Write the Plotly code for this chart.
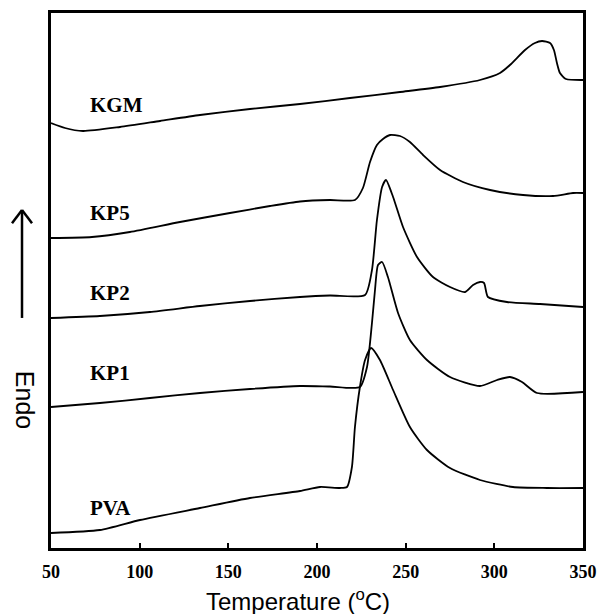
import plotly.graph_objects as go

# DSC curves: temperature (deg C) vs heat flow (arbitrary units, curves offset)
kgm_t = [50, 57.9, 68, 88.9, 111.5, 134, 162.2, 190.4, 218.6, 246.8, 269.4, 291.9, 303.2, 308.8, 317.3, 322.9, 326.9, 331.4, 333.6, 335.3, 337, 340.4, 350]
kgm_y = [425, 420, 417, 421, 427, 433, 439, 444, 450, 456, 461, 468, 475, 483, 498, 505, 507, 505, 498, 485, 475, 469, 468]

kp5_t = [50, 73.1, 94.5, 122.7, 150.9, 173.5, 190.4, 207.3, 221.4, 225.9, 229.9, 233.8, 237.2, 241.2, 246.8, 252.4, 259.8, 269.4, 282.3, 297.6, 316.2, 333.1, 344.4, 350]
kp5_y = [310, 311, 316, 326, 335, 342, 346.5, 348, 348, 360, 386, 403, 409, 413, 412, 406, 393, 378, 366, 358, 353, 352, 355, 355]

kp2_t = [50, 77.6, 105.8, 134, 162.2, 190.4, 207.3, 227.1, 231, 233.8, 236.7, 238.9, 242.9, 248.5, 256.4, 265.4, 275, 283.5, 288, 291.9, 294.2, 296.4, 307.1, 325.8, 350]
kp2_y = [230, 232, 236, 242, 247, 251, 252.5, 253, 278, 328, 361, 368, 351, 321, 291, 271, 261, 256, 263, 266, 265, 251, 246, 244, 241]

kp1_t = [50, 77.6, 105.8, 134, 162.2, 190.4, 207.3, 224.2, 228.2, 231, 232.7, 234.4, 236.7, 240, 245.7, 252.4, 262, 275, 291.9, 301.5, 308.8, 315.6, 324.1, 350]
kp1_y = [141, 145, 150, 155, 159, 162, 161.5, 161, 181, 225, 258, 283, 286, 271, 235, 208, 188, 171, 162, 168, 171, 166, 155, 156]

pva_t = [50, 77.6, 100.2, 134, 162.2, 190.4, 201.7, 213, 216.9, 219.7, 221.4, 224.2, 227.1, 230.5, 235.5, 242.9, 252.4, 262, 275, 291.9, 310.5, 329.7, 350]
pva_y = [15, 18, 28, 40, 50, 57, 61, 60, 61, 81, 121, 161, 188, 200, 188, 158, 121, 98, 80, 68, 61, 60, 60]

names = ["KGM", "KP5", "KP2", "KP1", "PVA"]
label_t = [70.9, 70.9, 70.9, 70.9, 70.9]
label_y = [443, 335, 255, 175, 40]

tick_vals = [50, 100, 150, 200, 250, 300, 350]
tick_text = ["50", "100", "150", "200", "250", "300", "350"]

series = [(kgm_t, kgm_y), (kp5_t, kp5_y), (kp2_t, kp2_y), (kp1_t, kp1_y), (pva_t, pva_y)]

fig = go.Figure()
for (t, y), n in zip(series, names):
    fig.add_trace(go.Scatter(x=t, y=y, mode="lines", name=n,
                             line=dict(color="black", width=1.8, shape="spline", smoothing=0.6),
                             showlegend=False, hoverinfo="skip"))

for n, lt, ly in zip(names, label_t, label_y):
    fig.add_annotation(x=lt, y=ly, text="<b>" + n + "</b>", showarrow=False, xanchor="left", yanchor="middle",
                       font=dict(family="Liberation Serif", size=21, color="black"))

# Axis title
fig.add_annotation(xref="paper", yref="paper", x=0.464, y=-0.097, text="Temperature (<sup>o</sup>C)",
                   showarrow=False, xanchor="center", yanchor="middle",
                   font=dict(family="Liberation Sans", size=24, color="black"))
# Endo label
fig.add_annotation(xref="paper", yref="paper", x=-0.049, y=0.277, text="Endo", textangle=90,
                   showarrow=False, xanchor="center", yanchor="middle",
                   font=dict(family="Liberation Sans", size=25, color="black"))
# Endo arrow (shaft + head)
arrow_line = dict(color="black", width=2.5)
fig.add_shape(type="line", xref="paper", yref="paper", x0=-0.0545, x1=-0.0545, y0=0.430, y1=0.630, line=arrow_line)
fig.add_shape(type="line", xref="paper", yref="paper", x0=-0.0733, x1=-0.0545, y0=0.607, y1=0.632, line=arrow_line)
fig.add_shape(type="line", xref="paper", yref="paper", x0=-0.0357, x1=-0.0545, y0=0.607, y1=0.632, line=arrow_line)

fig.update_layout(
    width=600, height=614,
    margin=dict(l=51, r=17, t=13, b=66, autoexpand=False),
    paper_bgcolor="white", plot_bgcolor="white",
    xaxis=dict(range=[50, 350], tickvals=tick_vals, ticktext=tick_text, ticks="inside", ticklen=5,
               tickwidth=1.5, tickcolor="black", showgrid=False, zeroline=False, automargin=False,
               showline=True, linecolor="black", linewidth=2.5, mirror=True,
               tickfont=dict(family="Liberation Serif", size=18, color="black", weight="bold"),
               ticklabelstandoff=6),
    yaxis=dict(range=[0, 535], showticklabels=False, ticks="", showgrid=False, zeroline=False,
               automargin=False, showline=True, linecolor="black", linewidth=2.5, mirror=True),
)

fig.write_html("out.html")
